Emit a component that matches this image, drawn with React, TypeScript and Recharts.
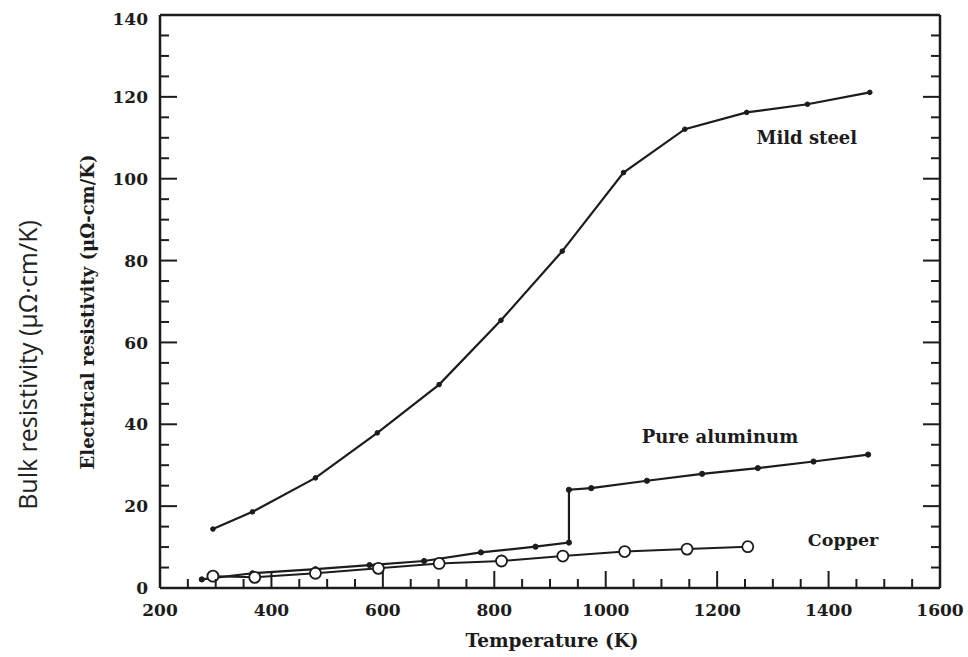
import React from 'react';
import { ComposedChart, Line, XAxis, YAxis, ReferenceDot } from 'recharts';

// ---- data ----
const steelT = [295, 366, 479, 590, 701, 812, 922, 1032, 1142, 1253, 1362, 1474];
const steelV = [14.4, 18.6, 26.9, 37.9, 49.7, 65.4, 82.3, 101.5, 112.1, 116.2, 118.2, 121.1];

const aluT = [275, 366, 479, 576, 674, 776, 874, 934, 934, 974, 1074, 1173, 1273, 1373, 1471];
const aluV = [2.1, 3.6, 4.6, 5.6, 6.6, 8.7, 10.1, 11.1, 24.0, 24.4, 26.2, 27.9, 29.3, 30.9, 32.6];

const copperT = [295, 370, 479, 592, 701, 813, 923, 1034, 1146, 1255];
const copperV = [2.9, 2.6, 3.6, 4.8, 6.0, 6.6, 7.8, 8.9, 9.5, 10.1];

const xTicks = [200, 250, 300, 350, 400, 450, 500, 550, 600, 650, 700, 750, 800, 850, 900, 950, 1000, 1050, 1100, 1150, 1200, 1250, 1300, 1350, 1400, 1450, 1500, 1550, 1600];
const xLabels = [200, 400, 600, 800, 1000, 1200, 1400, 1600];
const yTicks = [0, 5, 10, 15, 20, 25, 30, 35, 40, 45, 50, 55, 60, 65, 70, 75, 80, 85, 90, 95, 100, 105, 110, 115, 120, 125, 130, 135, 140];
const yLabels = [0, 20, 40, 60, 80, 100, 120, 140];

const annotations = [
  { T: 1361, v: 110, text: 'Mild steel', size: 18 },
  { T: 1205, v: 37, text: 'Pure aluminum', size: 18 },
  { T: 1426, v: 11.8, text: 'Copper', size: 17.5 },
];

const xTitle = 'Temperature (K)';
const yTitle = 'Electrical resistivity (μΩ-cm/K)';
const outerTitle = 'Bulk resistivity (μΩ·cm/K)';

const toRows = (ts: number[], vs: number[]) => ts.map((T, i) => ({ T, v: vs[i] }));
const steelData = toRows(steelT, steelV);
const aluData = toRows(aluT, aluV);
const copperData = toRows(copperT, copperV);

const INK = '#1c1c1c';
const SERIF = '"DejaVu Serif", "Liberation Serif", serif';
const MAJOR = 17;
const MINOR = 9;

const BottomTick = (p: any) => {
  const v = p.payload.value;
  const major = xLabels.includes(v);
  return (
    <g>
      <line x1={p.x} x2={p.x} y1={p.y} y2={p.y - (major ? MAJOR : MINOR)} stroke={INK} strokeWidth={2} />
      {major && (
        <text x={p.x} y={p.y + 28} textAnchor="middle" fontFamily={SERIF} fontWeight={700} fontSize={17} fill={INK}>
          {v}
        </text>
      )}
    </g>
  );
};

const TopTick = (p: any) => {
  const v = p.payload.value;
  const major = xLabels.includes(v);
  return <line x1={p.x} x2={p.x} y1={p.y} y2={p.y + (major ? MAJOR : MINOR)} stroke={INK} strokeWidth={2} />;
};

const LeftTick = (p: any) => {
  const v = p.payload.value;
  const major = yLabels.includes(v);
  return (
    <g>
      <line x1={p.x} x2={p.x + (major ? MAJOR : MINOR)} y1={p.y} y2={p.y} stroke={INK} strokeWidth={2} />
      {major && (
        <text x={p.x - 12} y={p.y + (v === 140 ? 4 : 0)} dy="0.36em" textAnchor="end" fontFamily={SERIF} fontWeight={700} fontSize={17} fill={INK}>
          {v}
        </text>
      )}
    </g>
  );
};

const RightTick = (p: any) => {
  const v = p.payload.value;
  const major = yLabels.includes(v);
  return <line x1={p.x} x2={p.x - (major ? MAJOR : MINOR)} y1={p.y} y2={p.y} stroke={INK} strokeWidth={2} />;
};

const XTitle = (p: any) => {
  const vb = p.viewBox;
  return (
    <text x={vb.x + vb.width / 2 + 2} y={vb.y + 59} textAnchor="middle" fontFamily={SERIF} fontWeight={700} fontSize={18.5} fill={INK}>
      {xTitle}
    </text>
  );
};

const YTitle = (p: any) => {
  const vb = p.viewBox;
  const right = vb.x + vb.width;
  const cx1 = right - 72;
  const cy1 = 312;
  const cx2 = right - 132;
  const cy2 = 365;
  return (
    <g>
      <text x={cx1} y={cy1} dy="0.36em" transform={`rotate(-90, ${cx1}, ${cy1})`} textAnchor="middle" fontFamily={SERIF} fontWeight={700} fontSize={18} fill={INK}>
        {yTitle}
      </text>
      <text x={cx2} y={cy2} dy="0.36em" transform={`rotate(-90, ${cx2}, ${cy2})`} textAnchor="middle" fontFamily='"Open Sans", sans-serif' fontSize={25} fill="#222">
        {outerTitle}
      </text>
    </g>
  );
};

export default function App() {
  return (
    <div style={{ position: 'absolute', left: 0, top: 0, width: 968, height: 657, background: '#fff' }}>
      <ComposedChart width={968} height={657} margin={{ top: 14, right: 27, bottom: 68, left: 159 }}>
        <XAxis
          xAxisId={0}
          dataKey="T"
          type="number"
          domain={[200, 1600]}
          allowDataOverflow
          ticks={xTicks}
          interval={0}
          height={1}
          tickSize={0}
          tickMargin={0}
          tickLine={false}
          tick={BottomTick}
          axisLine={{ stroke: INK, strokeWidth: 2.5 }}
          label={<XTitle />}
        />
        <XAxis
          xAxisId="top"
          orientation="top"
          type="number"
          domain={[200, 1600]}
          allowDataOverflow
          ticks={xTicks}
          interval={0}
          height={1}
          tickSize={0}
          tickMargin={0}
          tickLine={false}
          tick={TopTick}
          axisLine={{ stroke: INK, strokeWidth: 2.5 }}
        />
        <YAxis
          yAxisId={0}
          type="number"
          domain={[0, 140]}
          allowDataOverflow
          ticks={yTicks}
          interval={0}
          width={1}
          tickSize={0}
          tickMargin={0}
          tickLine={false}
          tick={LeftTick}
          axisLine={{ stroke: INK, strokeWidth: 2.5 }}
          label={<YTitle />}
        />
        <YAxis
          yAxisId="right"
          orientation="right"
          type="number"
          domain={[0, 140]}
          allowDataOverflow
          ticks={yTicks}
          interval={0}
          width={1}
          tickSize={0}
          tickMargin={0}
          tickLine={false}
          tick={RightTick}
          axisLine={{ stroke: INK, strokeWidth: 2.5 }}
        />
        <Line
          data={steelData}
          dataKey="v"
          type="linear"
          stroke={INK}
          strokeWidth={2.2}
          dot={{ r: 2.3, fill: INK, stroke: INK, strokeWidth: 1 }}
          isAnimationActive={false}
        />
        <Line
          data={aluData}
          dataKey="v"
          type="linear"
          stroke={INK}
          strokeWidth={2.2}
          dot={{ r: 2.6, fill: INK, stroke: INK, strokeWidth: 1 }}
          isAnimationActive={false}
        />
        <Line
          data={copperData}
          dataKey="v"
          type="linear"
          stroke={INK}
          strokeWidth={2}
          dot={{ r: 5.5, fill: '#fff', stroke: INK, strokeWidth: 1.8 }}
          isAnimationActive={false}
        />
        {annotations.map((a) => (
          <ReferenceDot
            key={a.text}
            x={a.T}
            y={a.v}
            r={0}
            shape={(p: any) => (
              <text x={p.cx} y={p.cy} dy="0.36em" textAnchor="middle" fontFamily={SERIF} fontWeight={700} fontSize={a.size} fill={INK}>
                {a.text}
              </text>
            )}
          />
        ))}
      </ComposedChart>
    </div>
  );
}
